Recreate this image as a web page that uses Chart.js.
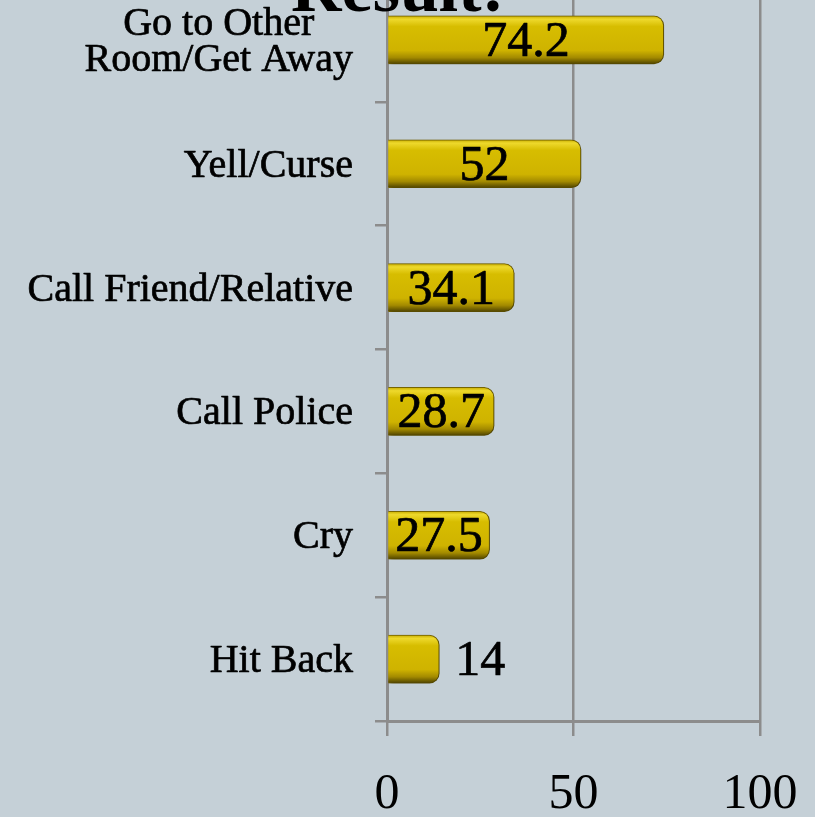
<!DOCTYPE html>
<html>
<head>
<meta charset="utf-8">
<script src="https://cdn.jsdelivr.net/npm/chart.js@4.4.1/dist/chart.umd.min.js"></script>
<style>
  html, body { margin: 0; padding: 0; background: #c5d0d7; overflow: hidden; width: 815px; height: 817px; }
  #wrap { position: absolute; left: 0; top: -100px; width: 815px; height: 917px; }
</style>
</head>
<body>
<div id="wrap"><canvas id="c" width="815" height="917"></canvas></div>
<script>
const chartTitle = "Result:";
const categories = [["Go to Other", "Room/Get Away"], "Yell/Curse", "Call Friend/Relative", "Call Police", "Cry", "Hit Back"];
const values = [74.2, 52, 34.1, 28.7, 27.5, 14];
const xTicks = [0, 50, 100];

const FONT = '"Liberation Serif", "Times New Roman", serif';
const GRID = '#8c8c8c';
const BAR_H = 48;

const shadowPlugin = {
  id: 'barShadow',
  beforeDatasetsDraw(chart) {
    const c = chart.ctx;
    c.save();
    c.shadowColor = 'rgba(50,42,0,0.65)';
    c.shadowBlur = 4;
    c.shadowOffsetX = 2;
    c.shadowOffsetY = 2;
  },
  afterDatasetsDraw(chart) { chart.ctx.restore(); }
};

function heavyText(c, txt, x, y) {
  c.strokeText(txt, x, y);
  c.fillText(txt, x, y);
}

const textPlugin = {
  id: 'texts',
  afterDraw(chart) {
    const c = chart.ctx;
    const ys = chart.scales.y;
    c.save();
    c.fillStyle = '#000';
    c.strokeStyle = '#000';
    c.lineWidth = 0.7;
    c.lineJoin = 'round';
    c.font = '40px ' + FONT;
    c.textBaseline = 'alphabetic';
    c.textAlign = 'center';
    categories.forEach((lab, i) => {
      const lines = Array.isArray(lab) ? lab : [lab];
      const maxW = Math.max(...lines.map(l => c.measureText(l).width));
      const right = ys.right - 34;
      const cx = right - maxW / 2;
      const cy = ys.getPixelForValue(i);
      const lh = 36;
      lines.forEach((l, k) => {
        heavyText(c, l, cx, cy + 13 - (lines.length - 1) * lh / 2 + k * lh);
      });
    });
    c.font = '50px ' + FONT;
    const meta = chart.getDatasetMeta(0);
    meta.data.forEach((el, i) => {
      const txt = String(values[i]);
      const w = c.measureText(txt).width;
      const barW = el.x - el.base;
      if (w + 10 < barW) {
        c.textAlign = 'center';
        heavyText(c, txt, (el.x + el.base) / 2, el.y + 16);
      } else {
        c.textAlign = 'left';
        heavyText(c, txt, el.x + 16, el.y + 16);
      }
    });
    c.font = 'bold 70px ' + FONT;
    c.textAlign = 'center';
    c.fillText(chartTitle, 398, 111);
    c.restore();
  }
};

function barFill(ctx) {
  const chart = ctx.chart;
  const ys = chart.scales && chart.scales.y;
  if (!ys || ctx.type !== 'data') return '#d1b600';
  const cy = ys.getPixelForValue(ctx.dataIndex);
  if (!isFinite(cy)) return '#d1b600';
  const g = chart.ctx.createLinearGradient(0, cy - BAR_H / 2, 0, cy + BAR_H / 2);
  g.addColorStop(0, '#c8ad00');
  g.addColorStop(0.07, '#eed92c');
  g.addColorStop(0.22, '#d7bd00');
  g.addColorStop(0.72, '#cfb300');
  g.addColorStop(0.87, '#a38a00');
  g.addColorStop(1, '#4f4300');
  return g;
}

new Chart(document.getElementById('c'), {
  type: 'bar',
  data: {
    labels: categories,
    datasets: [{
      data: values,
      backgroundColor: barFill,
      borderColor: '#7d6a00',
      borderWidth: 1,
      borderSkipped: 'start',
      borderRadius: 10,
      barThickness: BAR_H
    }]
  },
  options: {
    indexAxis: 'y',
    responsive: false,
    animation: false,
    devicePixelRatio: 1,
    layout: { padding: { top: 78, right: 55, left: 0, bottom: 0 } },
    plugins: { legend: { display: false }, tooltip: { enabled: false }, title: { display: false } },
    scales: {
      x: {
        min: 0, max: 100,
        afterBuildTicks(scale) { scale.ticks = xTicks.map(v => ({ value: v })); },
        afterFit(scale) { scale.height = 96; scale.paddingLeft = 0; scale.paddingRight = 0; },
        grid: { color: GRID, lineWidth: 2.5, tickLength: 15, drawTicks: true },
        border: { display: true, color: GRID, width: 3 },
        ticks: { color: '#000', font: { family: FONT, size: 50 }, padding: 29, maxRotation: 0 }
      },
      y: {
        afterFit(scale) { scale.width = 387; scale.paddingTop = 0; scale.paddingBottom = 0; },
        grid: { drawOnChartArea: false, drawTicks: true, tickLength: 12, color: GRID, lineWidth: 2.5, offset: true },
        border: { display: true, color: GRID, width: 3 },
        ticks: { display: false }
      }
    }
  },
  plugins: [shadowPlugin, textPlugin]
});
</script>
</body>
</html>
